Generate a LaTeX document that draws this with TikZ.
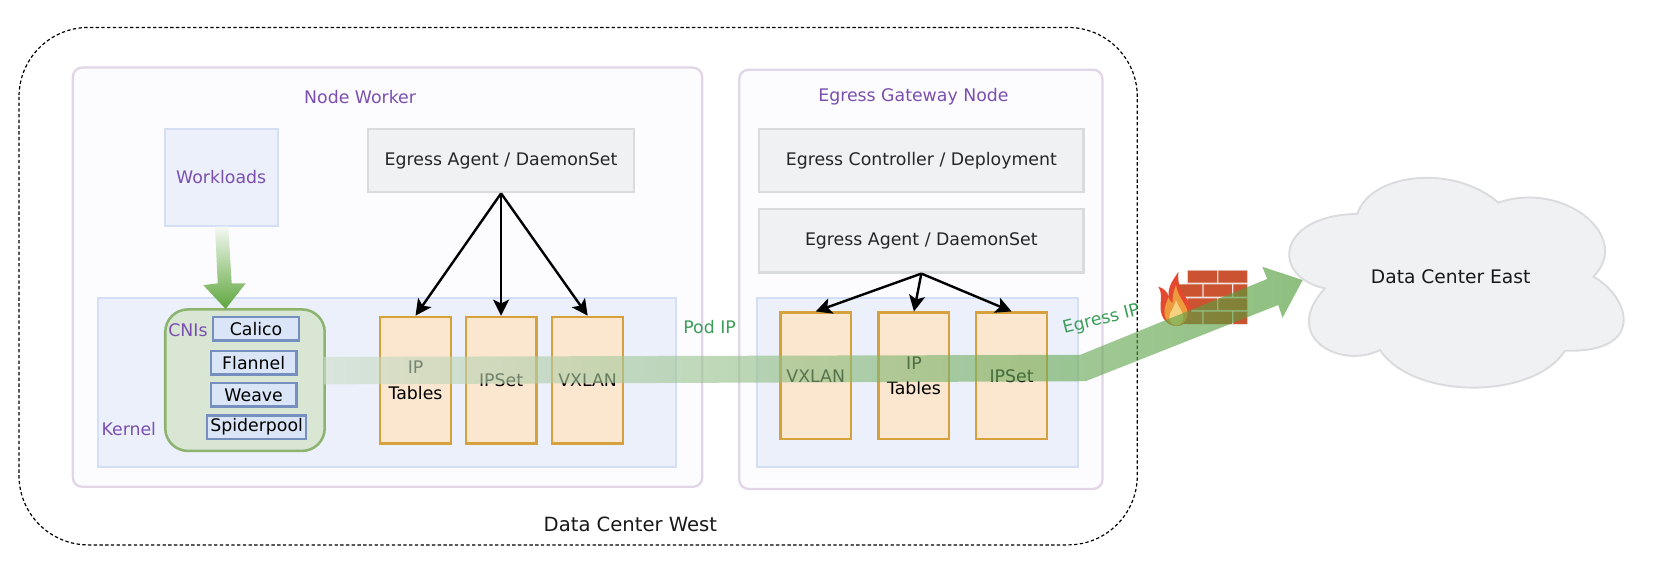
\documentclass[tikz,border=0pt]{standalone}
\usepackage{fontspec}
\setmainfont{DejaVu Sans}
\usetikzlibrary{arrows.meta}
\definecolor{pur}{HTML}{7B4FAF}
\definecolor{purl}{HTML}{E1D5E7}
\definecolor{panelf}{HTML}{FCFCFF}
\definecolor{blul}{HTML}{D4DFF5}
\definecolor{blufill}{HTML}{ECF0FB}
\definecolor{graf}{HTML}{F0F1F3}
\definecolor{grad}{HTML}{D9DBDD}
\definecolor{orf}{HTML}{FBE6CF}
\definecolor{ord}{HTML}{D6A13C}
\definecolor{grf}{HTML}{D9E6D4}
\definecolor{grd}{HTML}{8CB46E}
\definecolor{cnif}{HTML}{DAE6F8}
\definecolor{cnid}{HTML}{7590BE}
\definecolor{eg}{HTML}{3D9E5A}
\definecolor{brick}{HTML}{CC5331}
\definecolor{brickbg}{HTML}{EFE3DE}
\definecolor{flred}{HTML}{E2492F}
\definecolor{florange}{HTML}{EE9A3C}
\definecolor{flyellow}{HTML}{F6D27E}
\definecolor{bigA}{HTML}{CDDECA}
\definecolor{bigB}{HTML}{4A9932}
\definecolor{arrA}{HTML}{F4F8F2}
\definecolor{arrB}{HTML}{5EA63C}
\newlength\pxu
\setlength\pxu{0.792pt}
\tikzset{x=0.792pt,y=-0.792pt,
 lab/.style={font=\fontsize{13}{19}\selectfont,inner sep=0pt,align=center},
 plab/.style={lab,text=pur},
 panel/.style={draw=purl,line width=1.7pt,fill=panelf,rounded corners=7pt},
 kern/.style={draw=blul,line width=1.7pt,fill=blufill},
 gbox/.style={draw=grad,fill=graf,line width=1.7pt,lab,text=black!85},
 ptab/.style={draw=ord,fill=orf,line width=1.7pt,lab,minimum width=67\pxu,minimum height=120\pxu},
 cni/.style={draw=cnid,fill=cnif,line width=1.7pt,lab,minimum height=22\pxu},
 blk/.style={draw=black,line width=1.8pt,-{Stealth[length=12pt,width=12pt,inset=2.8pt]}},
 brk/.style={fill=brick,draw=none}}
\begin{document}
\begin{tikzpicture}
\useasboundingbox (0,0) rectangle (1568.2,549.2);
\fill[white] (0,0) rectangle (1568.2,549.2);
\draw[line width=0.9pt,rounded corners=52pt,dash pattern=on 2.5pt off 1.8pt] (18,26) rectangle (1077,516);
\node[lab,font=\fontsize{14.7}{15}\selectfont,text=black!90] (west) at (597,497) {Data Center West};
% panels
\draw[panel] (69,64) rectangle (665,461);
\draw[panel] (700,66) rectangle (1044,463);
\node[plab] (nw) at (341,92) {Node Worker};
\node[plab] (eg) at (865,92) {Egress Gateway Node};
% kernels
\draw[kern] (93,282) rectangle (640,442);
\draw[kern] (717,282) rectangle (1021,442);
\node[plab] (kl) at (122,406) {Kernel};
% workloads
\node[draw=blul,fill=blufill,line width=1.7pt,minimum width=107\pxu,minimum height=92\pxu,plab] (wl) at (209.5,168) {Workloads};
\node[gbox,minimum width=252\pxu,minimum height=60\pxu] (ag1) at (474.5,152) {Egress Agent / DaemonSet};
\node[gbox,minimum width=307\pxu,minimum height=60\pxu] (ctl) at (872.5,152) {Egress Controller / Deployment};
\node[gbox,minimum width=307\pxu,minimum height=60\pxu] (ag2) at (872.5,228) {Egress Agent / DaemonSet};
% CNI
\node[draw=grd,fill=grf,line width=1.9pt,rounded corners=17pt,minimum width=151\pxu,minimum height=134\pxu] (cnibox) at (232,360) {};
% tables
\node[ptab] (t1) at (393.5,360) {IP\\Tables};
\node[ptab] (t2) at (474.5,360) {IPSet};
\node[ptab] (t3) at (556.5,360) {VXLAN};
\node[ptab] (t4) at (772.5,356) {VXLAN};
\node[ptab] (t5) at (865.5,356) {IP\\Tables};
\node[ptab] (t6) at (958,356) {IPSet};
% cloud
\begin{scope}[shift={(1212.1,151.5)},scale=0.3157]
\draw[fill=graf,draw=grad,line width=1.4pt]
 (232,162) .. controls (270,40) and (520,10) .. (655,128)
 .. controls (850,60) and (1060,230) .. (940,350)
 .. controls (1050,410) and (1100,580) .. (855,572)
 .. controls (760,720) and (400,720) .. (300,570)
 .. controls (180,630) and (0,530) .. (135,385)
 .. controls (-30,350) and (-10,165) .. (232,162) -- cycle;
\end{scope}
\node[lab,font=\fontsize{14}{15}\selectfont,text=black!90] (east) at (1373.8,262) {Data Center East};
% firewall
\fill[brickbg] (1124,255.5) rectangle (1182,307.6);
\fill[brk] (1125,256.3) rectangle (1152.6,267.7) (1153.8,256.3) rectangle (1181,267.7);
\fill[brk] (1112,269.2) rectangle (1138.5,281) (1139.8,269.2) rectangle (1166.6,281) (1168,269.2) rectangle (1181,281);
\fill[brk] (1125,282.5) rectangle (1152.6,293.6) (1153.8,282.5) rectangle (1181,293.6);
\fill[brk] (1112,295.2) rectangle (1138.5,306.8) (1139.8,295.2) rectangle (1166.6,306.8) (1168,295.2) rectangle (1181,306.8);
% flame
\begin{scope}[shift={(1032.2,227.3)},scale=0.3157]
\fill[flred] (258,258) .. controls (225,255) and (208,225) .. (212,190)
 .. controls (213,170) and (215,155) .. (205,140)
 .. controls (222,145) and (232,155) .. (236,170)
 .. controls (232,140) and (250,120) .. (265,95)
 .. controls (262,130) and (272,155) .. (288,172)
 .. controls (300,188) and (306,205) .. (304,220)
 .. controls (300,242) and (282,258) .. (258,258) -- cycle;
\fill[florange] (258,258) .. controls (232,255) and (220,230) .. (224,205)
 .. controls (228,190) and (232,180) .. (235,172)
 .. controls (240,182) and (244,188) .. (248,190)
 .. controls (246,170) and (252,150) .. (258,135)
 .. controls (262,165) and (282,185) .. (292,210)
 .. controls (296,235) and (280,258) .. (258,258) -- cycle;
\fill[flyellow] (258,256) .. controls (240,252) and (234,235) .. (240,220)
 .. controls (246,210) and (254,195) .. (258,180)
 .. controls (264,200) and (280,215) .. (280,232)
 .. controls (278,248) and (268,256) .. (258,256) -- cycle;
\end{scope}
% big arrow
\shade[left color=bigA,right color=bigB,opacity=0.62]
 (307,338) -- (1023,336) -- (1200,264.2) -- (1195.4,252.6) -- (1233.6,265.2) -- (1214.5,300.9) -- (1210.5,288.8) -- (1028,361) -- (307,364) -- cycle;
% cni items
\node[cni,minimum width=81\pxu] (c1) at (242.5,311.5) {Calico};
\node[cni,minimum width=81\pxu] (c2) at (240.2,343.6) {Flannel};
\node[cni,minimum width=81\pxu] (c3) at (240.2,374) {Weave};
\node[cni,minimum width=94\pxu] (c4) at (243,404.5) {Spiderpool};
\node[plab] (cl) at (178,313) {CNIs};
% labels
\node[lab,text=eg] (pod) at (672,310) {Pod IP};
\node[lab,text=eg,rotate=14] (egip) at (1043,303) {Egress IP};
% gradient arrow
\shade[top color=arrA,bottom color=arrB]
 (203.6,214.7) -- (216.2,214.7) -- (219.4,268.3) -- (232.7,268.3) -- (213.7,292.6) -- (192.5,270) -- (206.2,268.3) -- cycle;
% black arrows
\draw[blk] (ag1.south) -- (t1.north);
\draw[blk] (ag1.south) -- (t2.north);
\draw[blk] (ag1.south) -- (t3.north);
\draw[blk] (ag2.south) -- (t4.north);
\draw[blk] (ag2.south) -- (t5.north);
\draw[blk] (ag2.south) -- (t6.north);
\end{tikzpicture}
\end{document}
